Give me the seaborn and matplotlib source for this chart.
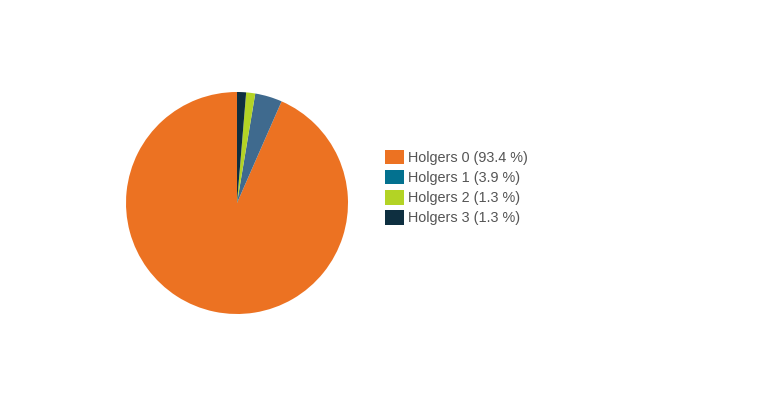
import matplotlib
matplotlib.use("Agg")
import matplotlib.pyplot as plt
import seaborn as sns

labels = ["Holgers 0", "Holgers 1", "Holgers 2", "Holgers 3"]
counts = [71, 3, 1, 1]
percent_labels = ["93.4", "3.9", "1.3", "1.3"]
pie_colors = ["#EC7222", "#3F6A8E", "#B3D325", "#0E2F40"]
legend_colors = ["#EC7222", "#03718F", "#B3D325", "#0E2F40"]

sns.set_theme(style="white")
plt.rcParams["font.family"] = ["Liberation Sans", "DejaVu Sans"]

fig = plt.figure(figsize=(7.68, 4.0), dpi=100)
cx, cy, r = 237, 203, 111
ax = fig.add_axes([(cx - r) / 768, (400 - cy - r) / 400, 2 * r / 768, 2 * r / 400])
ax.pie(counts, colors=pie_colors, startangle=90, counterclock=True,
       radius=1.0, wedgeprops=dict(linewidth=0))
ax.set_xlim(-1, 1)
ax.set_ylim(-1, 1)
ax.set_aspect("equal")
ax.axis("off")

from matplotlib.patches import Patch
handles = [Patch(facecolor=c, edgecolor="none") for c in legend_colors]
leg_labels = [f"{l} ({p} %)" for l, p in zip(labels, percent_labels)]
fig.legend(handles, leg_labels, loc="upper left",
           bbox_to_anchor=(385 / 768, 1 - 150 / 400), frameon=False,
           fontsize=10.4, handlelength=1.3, handleheight=1.15,
           handletextpad=0.3, labelspacing=0.35, borderaxespad=0,
           borderpad=0, labelcolor="#555555")

fig.savefig("out.png", dpi=100)
